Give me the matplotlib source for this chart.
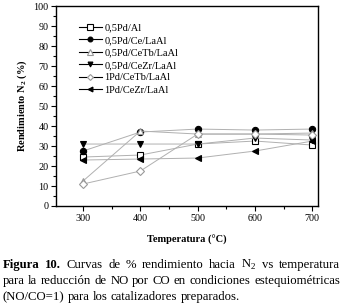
import matplotlib
matplotlib.use("Agg")
import matplotlib.pyplot as plt
from matplotlib.ticker import MultipleLocator

plt.rcParams['font.family'] = ['Liberation Serif', 'DejaVu Serif']
plt.rcParams['mathtext.fontset'] = 'custom'
plt.rcParams['mathtext.rm'] = 'Liberation Serif'
plt.rcParams['mathtext.bf'] = 'Liberation Serif:bold'

# data
temps = [300, 400, 500, 600, 700]
pd_al = [24.5, 25.5, 31.0, 32.5, 30.5]
pd_ce_laal = [27.5, 37.0, 38.5, 38.0, 38.5]
pd_cetb_laal = [12.5, 37.5, 36.0, 36.0, 36.5]
pd_cezr_laal = [31.0, 31.0, 31.0, 34.0, 33.0]
pd1_cetb_laal = [11.0, 17.5, 36.0, 36.0, 35.5]
pd1_cezr_laal = [23.0, 23.5, 24.0, 27.5, 32.5]

labels = ["0,5Pd/Al", "0,5Pd/Ce/LaAl", "0,5Pd/CeTb/LaAl",
          "0,5Pd/CeZr/LaAl", "1Pd/CeTb/LaAl", "1Pd/CeZr/LaAl"]
series = [pd_al, pd_ce_laal, pd_cetb_laal, pd_cezr_laal, pd1_cetb_laal, pd1_cezr_laal]
markers = ['s', 'o', '^', 'v', 'D', '<']
fills = ['white', 'black', 'white', 'black', 'white', 'black']
edges = ['black', 'black', '#999999', 'black', '#999999', 'black']
msizes = [5, 4.5, 5, 4.5, 4, 4.5]

fig = plt.figure(figsize=(3.42, 3.07), dpi=100)
ax = fig.add_axes([0.164, 0.329, 0.766, 0.651])

for vals, lab, m, fc, ec, ms in zip(series, labels, markers, fills, edges, msizes):
    ax.plot(temps, vals, color='#b0b0b0', linewidth=0.7, marker=m, markersize=ms,
            markerfacecolor=fc, markeredgecolor=ec, markeredgewidth=0.8)
    # legend proxy with black line
    ax.plot([], [], color='black', linewidth=0.8, marker=m, markersize=ms - 1,
            markerfacecolor=fc, markeredgecolor=ec, markeredgewidth=0.8, label=lab)

ax.set_xlim(253, 710)
ax.set_ylim(0, 100)
ax.xaxis.set_major_locator(MultipleLocator(100))
ax.xaxis.set_minor_locator(MultipleLocator(50))
ax.yaxis.set_major_locator(MultipleLocator(10))
ax.yaxis.set_minor_locator(MultipleLocator(5))
ax.tick_params(which='both', direction='out', labelsize=7.3, width=0.8, pad=2)
ax.tick_params(which='major', length=3.5)
ax.tick_params(which='minor', length=2)
for s in ax.spines.values():
    s.set_linewidth(1.0)

ax.set_xlabel("Temperatura (°C)", fontsize=7.5, fontweight='bold', labelpad=9)
ax.set_ylabel("Rendimiento N$_\\mathbf{2}$ (%)", fontsize=7.5, fontweight='bold', labelpad=3)

ax.legend(loc='upper left', bbox_to_anchor=(0.07, 0.935), frameon=False, fontsize=7.5,
          handlelength=2.2, handletextpad=0.3, labelspacing=0.3, borderaxespad=0)

# caption, justified word by word
fig.canvas.draw()
renderer = fig.canvas.get_renderer()
cap_lines = [
    [("Figura", 'bold'), ("10.", 'bold'), ("Curvas", 'normal'), ("de", 'normal'), ("%", 'normal'),
     ("rendimiento", 'normal'), ("hacia", 'normal'), ("N$_2$", 'normal'), ("vs", 'normal'),
     ("temperatura", 'normal')],
    [(w, 'normal') for w in "para la reducción de NO por CO en condiciones estequiométricas".split()],
    [(w, 'normal') for w in "(NO/CO=1) para los catalizadores preparados.".split()],
]
ys = [0.127, 0.075, 0.023]
x0, x1 = 0.008, 0.994
fs = 9.2
for k, (words, y) in enumerate(zip(cap_lines, ys)):
    texts = [fig.text(0, y, w, fontsize=fs, fontweight=wt, va='baseline') for w, wt in words]
    widths = [t.get_window_extent(renderer).width / fig.bbox.width for t in texts]
    if k < 2:
        gap = (x1 - x0 - sum(widths)) / (len(words) - 1)
    else:
        gap = 0.25 * fs / 72 / 3.42
    x = x0
    for t, w in zip(texts, widths):
        t.set_x(x)
        x += w + gap

fig.savefig("out.png", dpi=100)
